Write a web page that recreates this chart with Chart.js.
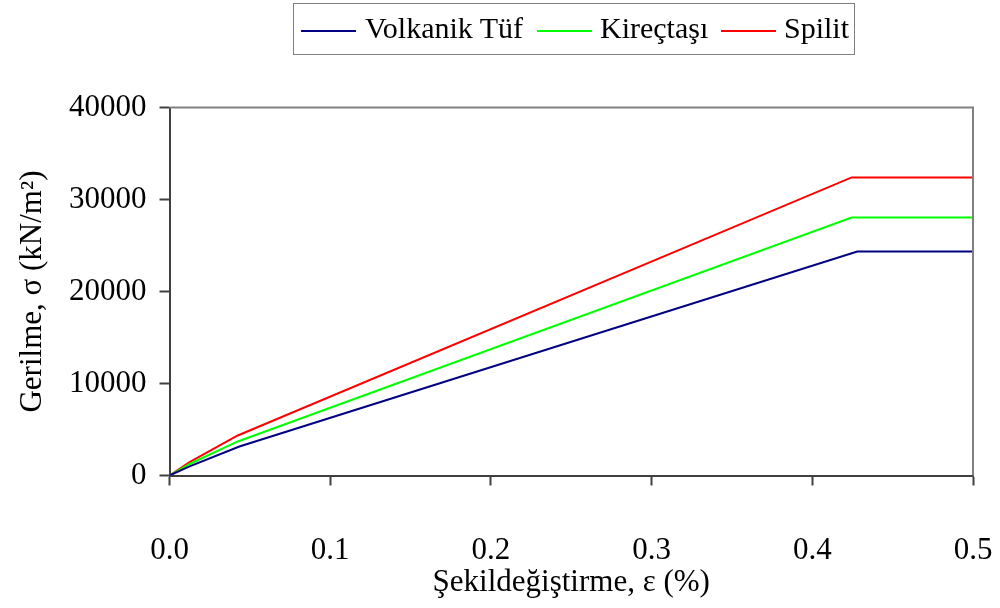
<!DOCTYPE html>
<html>
<head>
<meta charset="utf-8">
<script src="https://cdn.jsdelivr.net/npm/chart.js@4"></script>
<style>
    body { margin: 0; background: #fff; }
    #wrap { position: relative; width: 1000px; height: 608px; }
    #legend {
        position: absolute; left: 293px; top: 3px; width: 562px; height: 52px;
        border: 1px solid #808080; box-sizing: border-box;
        font-family: 'Liberation Serif', serif; font-size: 30px;
    }
    .swatch { position: absolute; top: 26px; width: 55px; height: 2px; }
    .name { position: absolute; top: 7px; line-height: 34px; white-space: nowrap; }
</style>
</head>
<body>
<div id="wrap">
    <canvas id="stressChart" width="1000" height="608"></canvas>
    <div id="legend"></div>
</div>
<script>
// Stress–strain curves: strain (%) vs stress (kN/m²)
const seriesNames = ['Volkanik Tüf', 'Kireçtaşı', 'Spilit'];
const seriesColors = ['#000080', '#00ff00', '#ff0000'];

const tufStrain = [0, 0.0125, 0.0435, 0.428, 0.5];
const tufStress = [0, 1000, 3150, 24350, 24350];

const kirectasiStrain = [0, 0.0125, 0.0425, 0.4245, 0.5];
const kirectasiStress = [0, 1250, 3700, 28050, 28050];

const spilitStrain = [0, 0.0125, 0.0425, 0.4245, 0.5];
const spilitStress = [0, 1450, 4350, 32400, 32400];

const xTicks = [0, 0.1, 0.2, 0.3, 0.4, 0.5];
const yTicks = [0, 10000, 20000, 30000, 40000];

const toPoints = (xs, ys) => xs.map((x, i) => ({ x: x, y: ys[i] }));
const allSeries = [
    toPoints(tufStrain, tufStress),
    toPoints(kirectasiStrain, kirectasiStress),
    toPoints(spilitStrain, spilitStress)
];

const FONT = 'Liberation Serif';

// top and right frame lines in grey
const frame = {
    id: 'frame',
    afterDatasetsDraw(chart) {
        const { ctx, chartArea: a } = chart;
        ctx.save();
        ctx.strokeStyle = '#808080';
        ctx.lineWidth = 2;
        ctx.beginPath();
        ctx.moveTo(a.left, a.top);
        ctx.lineTo(a.right, a.top);
        ctx.lineTo(a.right, a.bottom);
        ctx.stroke();
        ctx.restore();
    }
};

const ctx = document.getElementById('stressChart').getContext('2d');
new Chart(ctx, {
    type: 'line',
    data: {
        datasets: allSeries.map((pts, i) => ({
            label: seriesNames[i],
            data: pts,
            borderColor: seriesColors[i],
            borderWidth: 2,
            pointRadius: 0,
            tension: 0,
            fill: false
        }))
    },
    options: {
        responsive: false,
        animation: false,
        layout: { padding: { top: 107.5, right: 27, left: 0, bottom: 0 } },
        plugins: { legend: { display: false }, tooltip: { enabled: false } },
        scales: {
            x: {
                type: 'linear', min: 0, max: 0.5,
                afterFit(s) { s.height = 132.5; s.paddingLeft = 0; s.paddingRight = 0; },
                afterBuildTicks(s) { s.ticks = xTicks.map(v => ({ value: v })); },
                border: { color: '#404040', width: 2 },
                grid: { drawOnChartArea: false, tickLength: 10, color: '#404040', tickWidth: 2 },
                ticks: {
                    color: '#000', padding: 47,
                    font: { family: FONT, size: 31 },
                    callback: v => v.toFixed(1)
                },
                title: {
                    display: true, text: 'Şekildeğiştirme, ε (%)', color: '#000',
                    font: { family: FONT, size: 31 }, padding: { top: 0, bottom: 7 }
                }
            },
            y: {
                type: 'linear', min: 0, max: 40000,
                afterFit(s) { s.width = 169.5; s.paddingTop = 0; s.paddingBottom = 0; },
                afterBuildTicks(s) { s.ticks = yTicks.map(v => ({ value: v })); },
                border: { color: '#404040', width: 2 },
                grid: { drawOnChartArea: false, tickLength: 10, color: '#404040', tickWidth: 2 },
                ticks: {
                    color: '#000', padding: 13,
                    font: { family: FONT, size: 31 },
                    callback: v => String(v)
                },
                title: {
                    display: true, text: 'Gerilme, σ (kN/m²)', color: '#000',
                    font: { family: FONT, size: 31 }, padding: { top: 14, bottom: 0 }
                }
            }
        }
    },
    plugins: [frame]
});

// legend box above the plot
const swatchLeft = [7, 243, 427];
const nameLeft = [71, 306, 490];
const legend = document.getElementById('legend');
seriesNames.forEach((name, i) => {
    const sw = document.createElement('div');
    sw.className = 'swatch';
    sw.style.left = swatchLeft[i] + 'px';
    sw.style.background = seriesColors[i];
    legend.appendChild(sw);
    const label = document.createElement('span');
    label.className = 'name';
    label.style.left = nameLeft[i] + 'px';
    label.textContent = name;
    legend.appendChild(label);
});
</script>
</body>
</html>
